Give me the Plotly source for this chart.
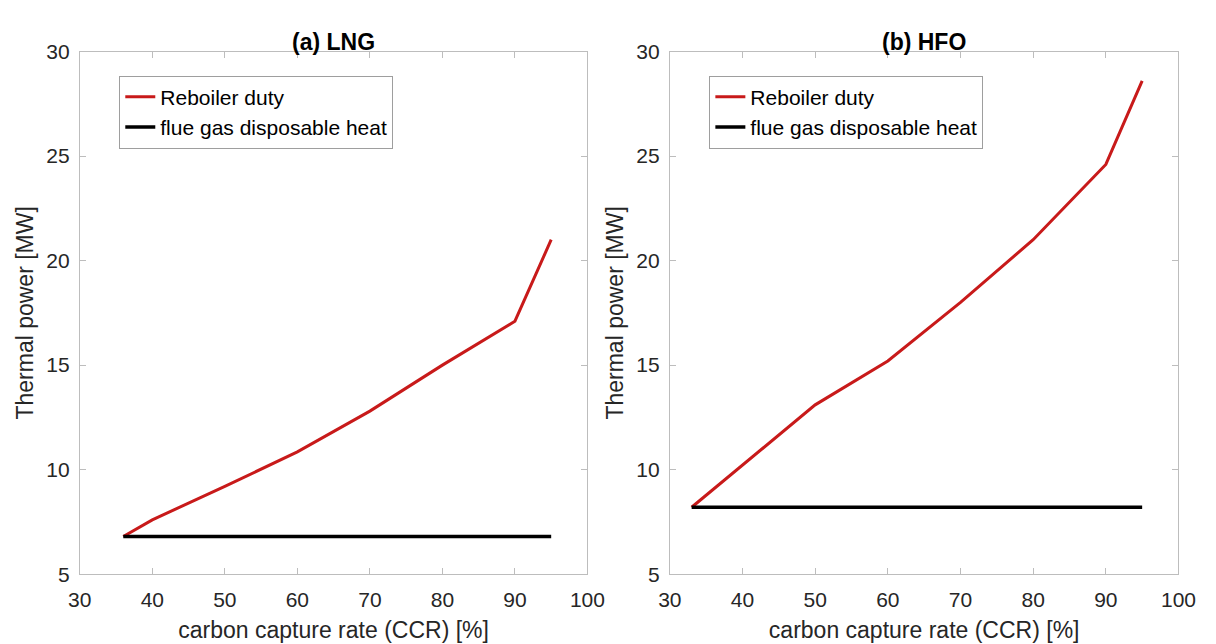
import plotly.graph_objects as go

# Carbon capture rate [%] and thermal power [MW]
lng_ccr = [36, 40, 50, 60, 70, 80, 90, 95]
lng_reboiler = [6.8, 7.6, 9.2, 10.85, 12.8, 15.0, 17.1, 21.0]
lng_flue_ccr = [36, 95]
lng_flue_heat = [6.8, 6.8]

hfo_ccr = [33, 40, 50, 60, 70, 80, 90, 95]
hfo_reboiler = [8.2, 10.2, 13.1, 15.2, 18.0, 21.0, 24.6, 28.6]
hfo_flue_ccr = [33, 95]
hfo_flue_heat = [8.2, 8.2]

x_ticks = [30, 40, 50, 60, 70, 80, 90, 100]
y_ticks = [5, 10, 15, 20, 25, 30]

RED = "#C81A1A"
FONT = "Liberation Sans, Arial, Helvetica, sans-serif"
AXIS_GRAY = "#BDBDBD"
TEXT = "#262626"

fig = go.Figure()

fig.add_trace(go.Scatter(x=lng_ccr, y=lng_reboiler, mode="lines", name="Reboiler duty",
                         line=dict(color=RED, width=3), xaxis="x", yaxis="y", legend="legend"))
fig.add_trace(go.Scatter(x=lng_flue_ccr, y=lng_flue_heat, mode="lines", name="flue gas disposable heat",
                         line=dict(color="black", width=3.5), xaxis="x", yaxis="y", legend="legend"))
fig.add_trace(go.Scatter(x=hfo_ccr, y=hfo_reboiler, mode="lines", name="Reboiler duty",
                         line=dict(color=RED, width=3), xaxis="x2", yaxis="y2", legend="legend2"))
fig.add_trace(go.Scatter(x=hfo_flue_ccr, y=hfo_flue_heat, mode="lines", name="flue gas disposable heat",
                         line=dict(color="black", width=3.5), xaxis="x2", yaxis="y2", legend="legend2"))

W, H = 1216, 644
ydom = [1 - 583 / H, 1 - 41 / H]
xdom1 = [69.5 / W, 590 / W]
xdom2 = [674.5 / W, 1196 / W]

def xaxis(domain, anchor):
    return dict(domain=domain, anchor=anchor, range=[30, 100], tickvals=x_ticks,
                showgrid=False, zeroline=False, showline=True, linecolor=AXIS_GRAY, linewidth=1,
                mirror="ticks", ticks="inside", ticklen=6, tickcolor=AXIS_GRAY,
                ticklabelstandoff=7,
                tickfont=dict(size=21, color=TEXT, family=FONT),
                title=dict(text="carbon capture rate (CCR) [%]", standoff=11,
                           font=dict(size=23, color=TEXT, family=FONT)))

def yaxis(anchor):
    return dict(domain=ydom, anchor=anchor, range=[5, 30], tickvals=y_ticks,
                showgrid=False, zeroline=False, showline=True, linecolor=AXIS_GRAY, linewidth=1,
                mirror="ticks", ticks="inside", ticklen=6, tickcolor=AXIS_GRAY,
                ticklabelstandoff=5,
                tickfont=dict(size=21, color=TEXT, family=FONT),
                title=dict(text="Thermal power [MW]", standoff=6,
                           font=dict(size=23, color=TEXT, family=FONT)))

legend_style = dict(bgcolor="white", bordercolor="#9E9E9E", borderwidth=1,
                    font=dict(size=21, color="black", family=FONT),
                    xanchor="left", yanchor="top", itemwidth=30, tracegroupgap=0)

fig.update_layout(
    width=W, height=H,
    margin=dict(l=0, r=0, t=0, b=0),
    paper_bgcolor="white", plot_bgcolor="white",
    font=dict(family=FONT),
    xaxis=xaxis(xdom1, "y"),
    yaxis=yaxis("x"),
    xaxis2=xaxis(xdom2, "y2"),
    yaxis2=yaxis("x2"),
    legend=dict(x=110 / W, y=1 - 66 / H, **legend_style),
    legend2=dict(x=715 / W, y=1 - 66 / H, **legend_style),
    annotations=[
        dict(text="<b>(a) LNG</b>", x=(xdom1[0] + xdom1[1]) / 2, y=1 - 31 / H,
             xref="paper", yref="paper", showarrow=False, xanchor="center", yanchor="middle",
             font=dict(size=23, color="black", family=FONT)),
        dict(text="<b>(b) HFO</b>", x=(xdom2[0] + xdom2[1]) / 2, y=1 - 31 / H,
             xref="paper", yref="paper", showarrow=False, xanchor="center", yanchor="middle",
             font=dict(size=23, color="black", family=FONT)),
    ],
)

fig.write_html("out.html")
